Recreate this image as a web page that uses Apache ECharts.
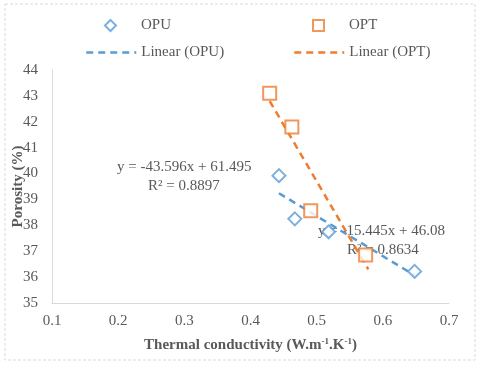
<!DOCTYPE html>
<html>
<head>
<meta charset="utf-8">
<title>Porosity vs thermal conductivity</title>
<script src="https://cdn.jsdelivr.net/npm/echarts@6/dist/echarts.min.js"></script>
<style>
html, body { margin: 0; padding: 0; background: #fff; }
#main { width: 480px; height: 366px; }
</style>
</head>
<body>
<div id="main"></div>
<script>
// points [conductivity, porosity]
var opuPoints = [[0.443, 39.92], [0.467, 38.25], [0.518, 37.75], [0.648, 36.22]];
var optPoints = [[0.429, 43.1], [0.4625, 41.8], [0.491, 38.56], [0.574, 36.85]];
// trendline ends (min x .. max x of each set)
var opuTrend = [[0.443, 39.24], [0.648, 36.07]];
var optTrend = [[0.429, 42.8], [0.578, 36.3]];
var xTicks = [0.1, 0.7, 0.1];   // min, max, step
var yTicks = [35, 44, 1];
var eqOpt = ['y = -43.596x + 61.495', 'R² = 0.8897'];
var eqOpu = ['y = -15.445x + 46.08', 'R² = 0.8634'];

var BLUE = '#5B9BD5', ORANGE = '#ED7D31', GREY = '#595959';
var FONT = '"Liberation Serif", "Times New Roman", serif';

var chart = echarts.init(document.getElementById('main'));

// scatter legend: small icon, text pushed right so it lines up with the line legends
function markLegend(name, icon, left, top) {
    return {
        data: [{ name: name, icon: icon }], left: left, top: top,
        itemWidth: 11, itemHeight: 11, itemGap: 5,
        textStyle: { fontFamily: FONT, fontSize: 15, color: GREY, padding: [0, 0, 0, 20] }
    };
}
function lineLegend(name, left, top) {
    return {
        data: [name], left: left, top: top,
        itemWidth: 50, itemHeight: 12, itemGap: 5,
        itemStyle: { opacity: 0 },
        lineStyle: { width: 2.5 },
        textStyle: { fontFamily: FONT, fontSize: 15, color: GREY }
    };
}

var option = {
    backgroundColor: '#fff',
    animation: false,
    legend: [
        markLegend('OPU', 'diamond', 99, 13),
        markLegend('OPT', 'rect', 307, 13),
        lineLegend('Linear (OPU)', 80, 40),
        lineLegend('Linear (OPT)', 288, 40)
    ],
    grid: { left: 52, right: 31, top: 70, bottom: 63, outerBoundsMode: 'none', containLabel: false },
    xAxis: {
        type: 'value', min: xTicks[0], max: xTicks[1], interval: xTicks[2],
        axisLine: { show: true, lineStyle: { color: '#D9D9D9', width: 1 } },
        axisTick: { show: false },
        splitLine: { show: false },
        axisLabel: { fontFamily: FONT, fontSize: 15, color: GREY, margin: 11,
            formatter: function (v) { return v.toFixed(1); } },
        name: '{b|Thermal conductivity (W.m}{s|-1}{b|.K}{s|-1}{b|)}',
        nameLocation: 'middle', nameGap: 34, nameMoveOverlap: false,
        nameTextStyle: {
            rich: {
                b: { fontFamily: FONT, fontSize: 15, fontWeight: 'bold', color: GREY },
                s: { fontFamily: FONT, fontSize: 9, fontWeight: 'bold', color: GREY, verticalAlign: 'top', padding: [0, 0, 7, 0] }
            }
        }
    },
    yAxis: {
        type: 'value', min: yTicks[0], max: yTicks[1], interval: yTicks[2],
        axisLine: { show: true, lineStyle: { color: '#D9D9D9', width: 1 } },
        axisTick: { show: false },
        splitLine: { show: false },
        axisLabel: { fontFamily: FONT, fontSize: 15, color: GREY, margin: 14 },
        name: 'Porosity (%)',
        nameLocation: 'middle', nameGap: 26, nameMoveOverlap: false,
        nameTextStyle: { fontFamily: FONT, fontSize: 15, fontWeight: 'bold', color: GREY }
    },
    graphic: [
        { type: 'rect', shape: { x: 5, y: 4, width: 470, height: 356 },
          style: { fill: null, stroke: '#D9D9D9', lineDash: [3, 2], lineWidth: 1 }, z: -1 },
        { type: 'text', left: 117, top: 160,
          style: { text: eqOpt[0], font: '15px ' + FONT, fill: GREY } },
        { type: 'text', left: 148, top: 179,
          style: { text: eqOpt[1], font: '15px ' + FONT, fill: GREY } },
        { type: 'text', left: 318, top: 224,
          style: { text: eqOpu[0], font: '15px ' + FONT, fill: GREY } },
        { type: 'text', left: 347, top: 243,
          style: { text: eqOpu[1], font: '15px ' + FONT, fill: GREY } }
    ],
    series: [
        {
            name: 'Linear (OPU)', type: 'line', data: opuTrend, symbol: 'none',
            lineStyle: { color: BLUE, width: 2.5, type: [7, 5] },
            itemStyle: { color: BLUE }, z: 2
        },
        {
            name: 'Linear (OPT)', type: 'line', data: optTrend, symbol: 'none',
            lineStyle: { color: ORANGE, width: 2.5, type: [7, 5] },
            itemStyle: { color: ORANGE }, z: 2
        },
        {
            name: 'OPU', type: 'scatter', data: opuPoints, symbol: 'diamond', symbolSize: 13,
            itemStyle: { color: '#fff', borderColor: BLUE, borderWidth: 2 }, z: 3
        },
        {
            name: 'OPT', type: 'scatter', data: optPoints, symbol: 'rect', symbolSize: 13,
            itemStyle: { color: '#fff', borderColor: ORANGE, borderWidth: 2 }, z: 3
        }
    ]
};

chart.setOption(option);
</script>
</body>
</html>
